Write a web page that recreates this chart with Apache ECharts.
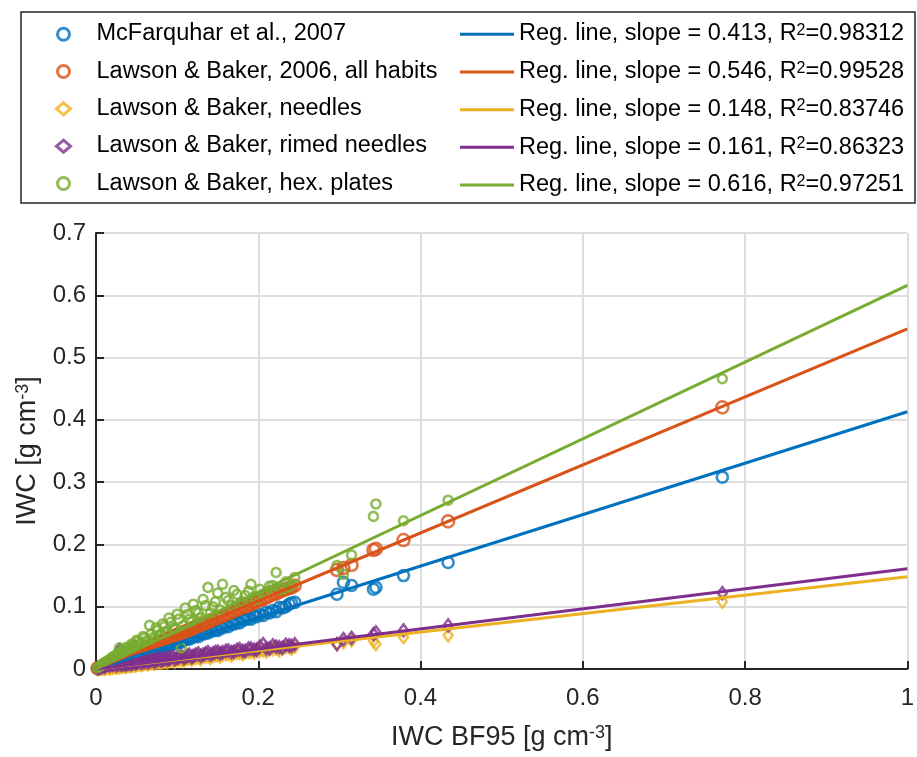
<!DOCTYPE html>
<html>
<head>
<meta charset="utf-8">
<script src="https://cdn.jsdelivr.net/npm/echarts@6/dist/echarts.min.js"></script>
<style>
  html, body { margin: 0; padding: 0; background: #fff; }
  #chart { width: 917px; height: 757px; }
</style>
</head>
<body>
<div id="chart"></div>
<script>
// IWC BF95 values (shared by all the estimates)
const iwcBF95 = [0.002,0.004,0.006,0.008,0.010,0.012,0.015,0.018,0.020,0.023,0.026,0.029,0.032,0.035,0.038,0.041,0.044,0.047,0.050,0.054,0.058,0.062,0.066,0.070,0.074,0.078,0.082,0.086,0.090,0.095,0.100,0.105,0.110,0.115,0.120,0.126,0.132,0.138,0.144,0.150,0.156,0.163,0.170,0.177,0.184,0.191,0.198,0.206,0.214,0.222,0.230,0.238,0.245,0.297,0.305,0.315,0.342,0.345,0.379,0.434,0.772,
  0.011,0.017,0.021,0.025,0.028,0.031,0.034,0.037,0.040,0.043,0.046,0.049,0.052,0.056,0.060,0.064,0.068,0.072,0.076,0.080,0.084,0.088,0.092,0.097,0.102,0.108,0.113,0.118,0.123,0.129,0.135,0.141,0.147,0.153,0.160,0.167,0.174,0.181,0.188,0.195,0.202,0.210,0.218,0.226,0.234,0.241];

const mcFarquhar = [0.001,0.002,0.003,0.003,0.004,0.005,0.006,0.008,0.008,0.010,0.011,0.012,0.014,0.014,0.016,0.017,0.019,0.019,0.021,0.023,0.024,0.026,0.028,0.029,0.031,0.033,0.034,0.037,0.038,0.040,0.042,0.043,0.047,0.048,0.051,0.052,0.056,0.058,0.061,0.062,0.066,0.068,0.072,0.074,0.079,0.080,0.084,0.086,0.090,0.092,0.098,0.104,0.107,0.120,0.139,0.134,0.128,0.131,0.150,0.171,0.308,
  0.005,0.007,0.009,0.010,0.012,0.013,0.015,0.015,0.018,0.018,0.020,0.021,0.022,0.024,0.026,0.027,0.030,0.031,0.032,0.035,0.036,0.039,0.040,0.042,0.044,0.047,0.049,0.052,0.053,0.057,0.058,0.062,0.063,0.067,0.069,0.073,0.075,0.079,0.081,0.085,0.087,0.091,0.094,0.099,0.100,0.106];

const lbAll = [0.001,0.002,0.003,0.004,0.006,0.007,0.008,0.010,0.011,0.013,0.014,0.016,0.018,0.019,0.021,0.022,0.024,0.026,0.027,0.030,0.031,0.034,0.036,0.038,0.041,0.042,0.045,0.047,0.049,0.052,0.055,0.057,0.060,0.063,0.066,0.069,0.072,0.075,0.079,0.082,0.085,0.089,0.093,0.097,0.100,0.104,0.108,0.112,0.117,0.121,0.126,0.130,0.134,0.159,0.162,0.167,0.191,0.193,0.207,0.237,0.420,
  0.006,0.009,0.012,0.014,0.015,0.017,0.019,0.020,0.022,0.024,0.025,0.027,0.029,0.031,0.033,0.035,0.037,0.040,0.042,0.044,0.046,0.048,0.051,0.053,0.056,0.059,0.062,0.065,0.068,0.071,0.074,0.078,0.081,0.084,0.088,0.092,0.096,0.100,0.103,0.107,0.111,0.115,0.120,0.124,0.128,0.131];

const lbNeedles = [0.000,0.001,0.001,0.001,0.001,0.002,0.002,0.002,0.003,0.003,0.004,0.004,0.004,0.005,0.005,0.006,0.006,0.006,0.007,0.008,0.008,0.009,0.009,0.010,0.011,0.011,0.012,0.012,0.013,0.014,0.015,0.015,0.016,0.017,0.018,0.019,0.020,0.021,0.021,0.022,0.023,0.024,0.025,0.026,0.027,0.028,0.029,0.030,0.032,0.033,0.034,0.035,0.036,0.040,0.043,0.046,0.045,0.040,0.051,0.054,0.108,
  0.001,0.002,0.003,0.003,0.003,0.004,0.005,0.004,0.006,0.005,0.007,0.006,0.008,0.007,0.009,0.008,0.010,0.009,0.011,0.010,0.012,0.011,0.014,0.012,0.015,0.013,0.017,0.015,0.018,0.016,0.020,0.018,0.022,0.020,0.024,0.022,0.026,0.024,0.028,0.026,0.030,0.028,0.032,0.030,0.035,0.033];

const lbRimed = [0.001,0.002,0.003,0.004,0.005,0.006,0.007,0.008,0.008,0.009,0.024,0.030,0.009,0.010,0.009,0.011,0.010,0.012,0.011,0.013,0.012,0.014,0.013,0.015,0.014,0.017,0.015,0.018,0.016,0.020,0.018,0.021,0.019,0.023,0.021,0.025,0.023,0.027,0.025,0.028,0.027,0.030,0.028,0.032,0.029,0.033,0.031,0.040,0.033,0.036,0.034,0.038,0.040,0.040,0.048,0.050,0.056,0.059,0.062,0.070,0.122,
  0.004,0.006,0.007,0.006,0.008,0.007,0.008,0.007,0.009,0.008,0.010,0.009,0.011,0.010,0.012,0.011,0.014,0.012,0.015,0.014,0.016,0.015,0.018,0.016,0.019,0.018,0.021,0.019,0.023,0.021,0.025,0.023,0.027,0.025,0.029,0.027,0.031,0.029,0.033,0.031,0.036,0.033,0.038,0.035,0.039,0.037];

const lbHex = [0.002,0.004,0.005,0.008,0.009,0.011,0.014,0.015,0.019,0.020,0.024,0.034,0.030,0.027,0.035,0.031,0.040,0.036,0.046,0.040,0.052,0.045,0.070,0.050,0.066,0.055,0.072,0.060,0.082,0.066,0.088,0.034,0.098,0.080,0.104,0.090,0.112,0.131,0.100,0.122,0.136,0.110,0.126,0.105,0.118,0.136,0.112,0.120,0.133,0.155,0.128,0.132,0.147,0.166,0.152,0.183,0.245,0.265,0.238,0.271,0.466,
  0.010,0.014,0.018,0.020,0.025,0.024,0.030,0.028,0.034,0.033,0.039,0.035,0.044,0.040,0.050,0.045,0.056,0.048,0.062,0.054,0.068,0.060,0.075,0.064,0.080,0.070,0.088,0.076,0.094,0.082,0.102,0.090,0.108,0.095,0.115,0.102,0.120,0.108,0.125,0.116,0.128,0.124,0.134,0.128,0.140,0.136];

const scatterNames = ["McFarquhar et al., 2007", "Lawson & Baker, 2006, all habits", "Lawson & Baker, needles", "Lawson & Baker, rimed needles", "Lawson & Baker, hex. plates"];
const slopes = [0.413, 0.546, 0.148, 0.161, 0.616];
const r2 = ["0.98312", "0.99528", "0.83746", "0.86323", "0.97251"];
const xTicks = [0, 0.2, 0.4, 0.6, 0.8, 1];

const colors = ["#0072BD", "#D95319", "#EDB120", "#7E2F8E", "#77AC30"];
const font = "'Liberation Sans', Arial, Helvetica, sans-serif";
const ink = "#262626";
const clear = "rgba(0,0,0,0)";

const ySets = [mcFarquhar, lbAll, lbNeedles, lbRimed, lbHex];
const symbols = ["circle", "circle", "diamond", "diamond", "circle"];
const sizes = [[11, 11], [12, 12], [9, 12], [9, 12], [9, 9]];

const lineNames = slopes.map((s, i) => `Reg. line, slope = ${s}, R^2=${r2[i]}`);

const scatterSeries = ySets.map((ys, i) => ({
  name: scatterNames[i],
  type: "scatter",
  data: iwcBF95.map((x, j) => [x, ys[j]]),
  symbol: symbols[i],
  symbolSize: sizes[i],
  itemStyle: { color: clear, borderColor: colors[i], borderWidth: 2.6 },
  z: 2,
}));

const lineSeries = slopes.map((s, i) => ({
  name: lineNames[i],
  type: "line",
  data: [[0, 0], [1, s]],
  symbol: "none",
  lineStyle: { color: colors[i], width: 3 },
  itemStyle: { color: colors[i] },
  z: 5,
}));

const textRich = (size, supSize, pad, color) => ({
  t: { fontSize: size, fontFamily: font, color, lineHeight: size, verticalAlign: "bottom" },
  sup: { fontSize: supSize, fontFamily: font, color, lineHeight: supSize, verticalAlign: "top", padding: [0, 0, pad, 0] },
  g: { width: 21 },
});

const chart = echarts.init(document.getElementById("chart"));
chart.setOption({
  animation: false,
  backgroundColor: "#fff",
  graphic: [{
    type: "rect",
    shape: { x: 21, y: 12, width: 894, height: 191 },
    style: { fill: "#fff", stroke: ink, lineWidth: 1.5 },
    z: 0,
  }],
  legend: [
    {
      data: scatterNames.map((n, i) => ({
        name: n,
        icon: symbols[i],
        itemStyle: { color: clear, borderColor: colors[i], borderWidth: 3 },
      })),
      orient: "vertical",
      left: 50,
      top: 17,
      itemWidth: 14,
      itemHeight: 12,
      itemGap: 13.3,
      formatter: (n) => "{g|}{t|" + n + "}",
      textStyle: { rich: textRich(23.5, 16, 11, "#000") },
      z: 3,
    },
    {
      data: lineNames.map((n, i) => ({ name: n, icon: "rect", itemStyle: { color: colors[i] } })),
      orient: "vertical",
      left: 455,
      top: 17,
      itemWidth: 54,
      itemHeight: 3,
      itemGap: 10.2,
      formatter: (n) => {
        const parts = n.split("^2");
        return "{t|" + parts[0] + "}{sup|2}{t|" + parts[1] + "}";
      },
      textStyle: { rich: textRich(23.5, 16, 11, "#000") },
      z: 3,
    },
  ],
  grid: { left: 96, right: 7, top: 233, bottom: 85 },
  xAxis: {
    type: "value",
    min: 0,
    max: 1,
    interval: 0.2,
    name: "{t|IWC BF95 [g cm}{sup|-3}{t|]}",
    nameLocation: "middle",
    nameGap: 55,
    nameTextStyle: { rich: textRich(27, 18, 10, ink) },
    axisLine: { show: true, lineStyle: { color: ink, width: 2 } },
    axisTick: { show: true, inside: true, length: 8, lineStyle: { color: ink, width: 2 } },
    axisLabel: {
      fontSize: 24, fontFamily: font, color: ink, margin: 17,
      formatter: (v) => (xTicks.includes(+v.toFixed(1)) ? String(+v.toFixed(1)) : ""),
    },
    splitLine: { show: true, lineStyle: { color: "#dedede", width: 2 } },
  },
  yAxis: {
    type: "value",
    min: 0,
    max: 0.7,
    interval: 0.1,
    name: "{t|IWC [g cm}{sup|-3}{t|]}",
    nameLocation: "middle",
    nameGap: 48,
    nameTextStyle: { rich: textRich(27, 18, 10, ink) },
    axisLine: { show: true, lineStyle: { color: ink, width: 2 } },
    axisTick: { show: true, inside: true, length: 8, lineStyle: { color: ink, width: 2 } },
    axisLabel: {
      fontSize: 24, fontFamily: font, color: ink, margin: 10,
      formatter: (v) => String(+v.toFixed(1)),
    },
    splitLine: { show: true, lineStyle: { color: "#dedede", width: 2 } },
  },
  series: [...scatterSeries, ...lineSeries],
});
</script>
</body>
</html>
